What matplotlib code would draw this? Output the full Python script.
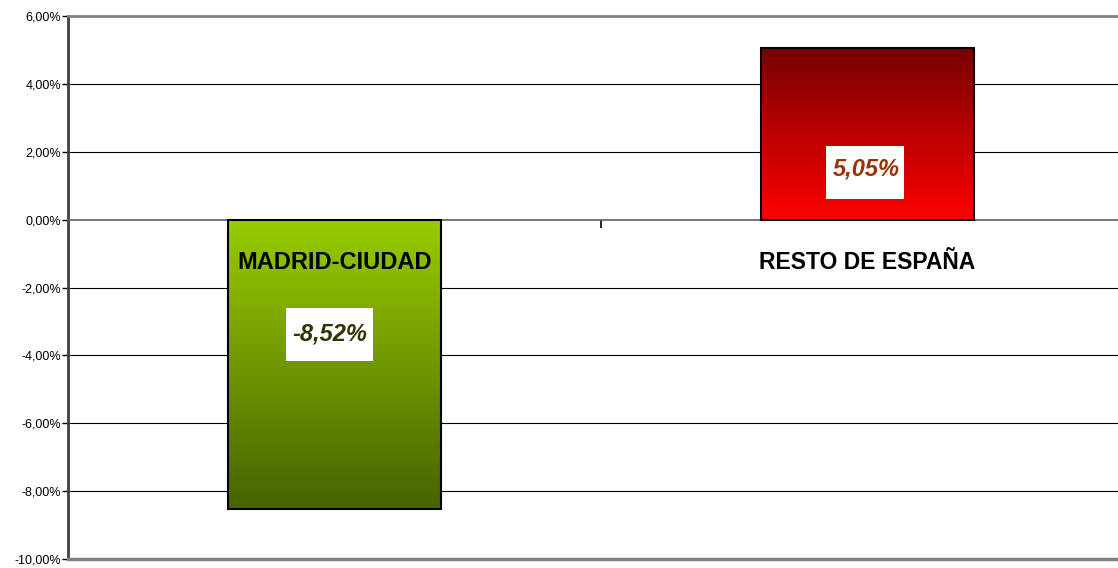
import numpy as np
import matplotlib.pyplot as plt
from matplotlib.colors import LinearSegmentedColormap
from matplotlib.patches import Rectangle

categories = ["MADRID-CIUDAD", "RESTO DE ESPAÑA"]
values = [-8.52, 5.05]
value_labels = ["-8,52%", "5,05%"]
yticks = [-10, -8, -6, -4, -2, 0, 2, 4, 6]

bar_grads = [("#99cc00", "#476300"), ("#760000", "#ff0000")]  # top, bottom
label_colors = ["#333300", "#993300"]

fam = ["Liberation Sans Narrow", "Liberation Sans", "DejaVu Sans"]

fig = plt.figure(figsize=(11.18, 5.68), dpi=100)
W, H = 1118, 568
ax = fig.add_axes([68 / W, 1 - 559 / H, (1134 - 68) / W, (559 - 16) / H])

ax.set_xlim(-0.5, 1.5)
ax.set_ylim(-10, 6)

# grid lines
for t in yticks:
    if t not in (-10, 6, 0):
        ax.axhline(t, color="black", lw=0.8, zorder=1)

width = 0.4
for i, (v, (ctop, cbot)) in enumerate(zip(values, bar_grads)):
    x0 = i - width / 2
    y0, y1 = min(0, v), max(0, v)
    cmap = LinearSegmentedColormap.from_list("g%d" % i, [cbot, ctop])
    grad = np.linspace(0, 1, 256).reshape(-1, 1)
    im = ax.imshow(grad, cmap=cmap, origin="lower", aspect="auto",
                   extent=[x0, x0 + width, y0, y1], zorder=2)
    rect = Rectangle((x0, y0), width, y1 - y0, facecolor="none",
                     edgecolor="black", lw=1.5, zorder=3)
    ax.add_patch(rect)
    im.set_clip_path(rect)

# category labels
ax.text(0, -1.25, categories[0], ha="center", va="center", fontsize=17,
        fontweight="bold", family=fam, color="black", zorder=5)
ax.text(1, -1.25, categories[1], ha="center", va="center", fontsize=16.5,
        fontweight="bold", family=fam, color="black", zorder=5)

# value labels in white boxes
val_pos = [(-0.008, -3.36), (0.997, 1.5)]
box_ext = [(-0.091, 0.072, -4.17, -2.60), (0.922, 1.068, 0.61, 2.17)]
for (x, y), (bx0, bx1, by0, by1), lab, c in zip(val_pos, box_ext,
                                                 value_labels, label_colors):
    ax.add_patch(Rectangle((bx0, by0), bx1 - bx0, by1 - by0,
                           facecolor="white", edgecolor="none", zorder=5))
    ax.text(x, y, lab, ha="center", va="center", fontsize=17,
            fontweight="bold", style="italic", family=fam, color=c, zorder=6)

ax.set_xlim(-0.5, 1.5)
ax.set_ylim(-10, 6)

# axes styling
ax.spines["right"].set_visible(False)
ax.spines["top"].set_color("#808080")
ax.spines["top"].set_linewidth(2)
ax.spines["left"].set_color("#404040")
ax.spines["left"].set_linewidth(2)
ax.spines["bottom"].set_position(("data", 0))
ax.spines["bottom"].set_color("#606060")
ax.spines["bottom"].set_linewidth(1.2)
ax.axhline(-10, color="#808080", lw=2.5, zorder=4, clip_on=False)

ax.set_xticks([0.5])
ax.set_xticklabels([""])
ax.tick_params(axis="x", direction="out", length=6, width=1.2, color="black")

ax.set_yticks(yticks)
ax.set_yticklabels([("%.2f%%" % t).replace(".", ",") for t in yticks])
ax.tick_params(axis="y", direction="out", length=4, width=1, labelsize=9,
               pad=1)
for lbl in ax.get_yticklabels():
    lbl.set_family(fam)

fig.savefig("out.png", dpi=100)
